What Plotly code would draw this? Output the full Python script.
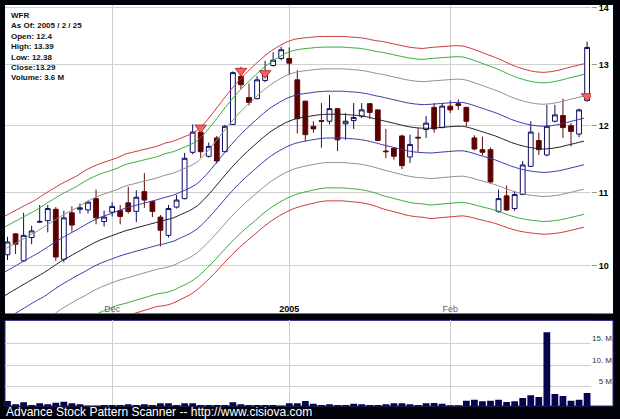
import pandas as pd
import plotly.graph_objects as go
from plotly.subplots import make_subplots

# ---- data -------------------------------------------------------------
symbol = "WFR"
holidays = ["2004-11-25", "2004-12-24", "2005-01-17", "2005-02-21"]
dates = [d for d in pd.bdate_range("2004-11-11", "2005-02-25").strftime("%Y-%m-%d")
         if d not in holidays]

open_ = [10.14, 10.42, 10.06, 10.37, 10.58, 10.60, 10.76, 10.08, 10.71, 10.76,
         10.75, 10.91, 10.59, 10.72, 10.74, 10.85, 10.73, 11.01, 10.87, 10.65,
         10.40, 10.79, 10.91, 11.59, 11.90, 11.53, 11.81, 11.60, 12.02, 12.80,
         12.45, 12.43, 12.73, 12.98, 13.10, 13.10, 12.74, 12.39, 11.99, 12.08,
         12.07, 12.27, 12.03, 12.08, 12.15, 12.35, 12.25, 11.61, 11.65, 11.84,
         11.52, 11.82, 11.94, 12.29, 11.97, 12.31, 12.35, 12.29, 11.81, 11.63,
         11.63, 10.73, 10.95, 10.77, 10.97, 11.38, 11.77, 11.55, 12.07, 12.16,
         12.00, 11.87, 12.40]
high = [10.38, 10.43, 10.71, 10.53, 10.82, 10.82, 10.79, 10.74, 10.80, 10.84,
        10.88, 11.04, 10.74, 10.86, 10.82, 11.08, 11.03, 11.28, 10.88, 10.68,
        10.82, 10.96, 11.58, 12.02, 11.97, 11.74, 11.84, 12.01, 12.88, 12.96,
        12.68, 12.80, 13.06, 13.21, 13.30, 13.29, 12.90, 12.40, 12.07, 12.36,
        12.49, 12.28, 12.20, 12.36, 12.36, 12.36, 12.26, 11.95, 11.67, 11.86,
        11.86, 11.96, 12.15, 12.36, 12.36, 12.40, 12.42, 12.30, 11.85, 11.83,
        11.66, 11.04, 11.10, 11.01, 11.46, 12.07, 11.89, 12.33, 12.33, 12.43,
        12.04, 12.27, 13.39]
low = [10.07, 10.15, 10.05, 10.28, 10.57, 10.44, 10.06, 10.04, 10.45, 10.70,
       10.70, 10.55, 10.52, 10.66, 10.55, 10.70, 10.58, 10.78, 10.65, 10.25,
       10.37, 10.77, 10.90, 11.56, 11.51, 11.51, 11.42, 11.59, 12.01, 12.59,
       12.32, 12.42, 12.70, 12.96, 13.07, 12.83, 11.88, 11.76, 11.89, 11.66,
       12.02, 11.61, 11.78, 11.95, 12.12, 12.11, 11.76, 11.50, 11.48, 11.34,
       11.43, 11.60, 11.81, 11.89, 11.96, 12.20, 12.25, 11.99, 11.62, 11.55,
       11.13, 10.71, 10.74, 10.74, 10.96, 11.37, 11.55, 11.53, 12.05, 11.81,
       11.68, 11.82, 12.38]
close = [10.31, 10.28, 10.40, 10.46, 10.59, 10.77, 10.11, 10.64, 10.54, 10.78,
         10.86, 10.64, 10.65, 10.80, 10.66, 10.73, 10.93, 10.89, 10.73, 10.47,
         10.77, 10.89, 11.50, 11.90, 11.60, 11.68, 11.46, 11.99, 12.86, 12.66,
         12.37, 12.74, 12.87, 13.07, 13.25, 13.02, 12.11, 11.86, 11.95, 12.07,
         12.27, 11.78, 12.07, 12.13, 12.25, 12.21, 11.77, 11.60, 11.53, 11.39,
         11.71, 11.81, 12.04, 11.95, 12.31, 12.25, 12.32, 12.07, 11.64, 11.59,
         11.15, 10.91, 10.75, 10.97, 11.40, 11.90, 11.63, 11.99, 12.17, 11.97,
         11.91, 12.25, 13.29]
volume_m = [1.73, 0.97, 1.43, 0.81, 1.20, 0.97, 1.34, 1.57, 1.20, 0.97,
            0.65, 0.65, 0.81, 0.81, 0.81, 0.97, 0.81, 0.97, 0.81, 1.20,
            1.20, 0.81, 1.20, 1.20, 0.81, 0.81, 0.81, 0.81, 1.43, 1.00,
            0.81, 0.81, 0.81, 0.81, 0.65, 1.20, 1.20, 1.73, 1.10, 0.81,
            0.97, 0.81, 0.81, 1.10, 0.97, 0.81, 0.81, 0.97, 1.20, 1.20,
            0.97, 0.81, 1.20, 1.27, 1.11, 0.74, 0.74, 1.80, 2.03, 1.66,
            1.80, 2.03, 1.50, 1.66, 2.42, 3.05, 2.66, 17.67, 3.35, 2.89,
            1.80, 2.03, 3.60]

# envelope: middle line and band unit width, per session
band_mid = [9.61, 9.67, 9.73, 9.79, 9.85, 9.91, 9.98, 10.05, 10.11, 10.17,
            10.23, 10.29, 10.34, 10.38, 10.42, 10.46, 10.49, 10.52, 10.55, 10.58,
            10.61, 10.64, 10.69, 10.74, 10.81, 10.92, 11.05, 11.19, 11.33, 11.46,
            11.58, 11.69, 11.80, 11.90, 11.98, 12.05, 12.10, 12.13, 12.15, 12.17,
            12.18, 12.18, 12.18, 12.17, 12.16, 12.14, 12.11, 12.08, 12.05, 12.02,
            11.99, 11.97, 11.96, 11.96, 11.97, 11.98, 11.99, 11.99, 11.96, 11.92,
            11.88, 11.84, 11.79, 11.74, 11.70, 11.67, 11.65, 11.64, 11.65, 11.67,
            11.70, 11.73, 11.76]
band_unit = [0.300, 0.300, 0.300, 0.300, 0.300, 0.305, 0.305, 0.305, 0.305, 0.305,
             0.310, 0.310, 0.310, 0.310, 0.310, 0.315, 0.315, 0.315, 0.315, 0.315,
             0.320, 0.320, 0.320, 0.320, 0.320, 0.325, 0.333, 0.341, 0.349, 0.356,
             0.362, 0.368, 0.372, 0.376, 0.378, 0.380, 0.380, 0.378, 0.376, 0.374,
             0.372, 0.372, 0.372, 0.372, 0.372, 0.372, 0.372, 0.375, 0.375, 0.375,
             0.375, 0.375, 0.375, 0.380, 0.380, 0.380, 0.380, 0.378, 0.375, 0.372,
             0.368, 0.365, 0.362, 0.358, 0.355, 0.352, 0.350, 0.350, 0.351, 0.353,
             0.355, 0.356, 0.357]
band_levels = [3.5, 3.0, 2.0, 1.0]
band_colors = ["#cc3333", "#33aa33", "#8c8c8c", "#3434a8"]

signal_idx = [24, 29, 32, 72]
signal_price = [11.97, 12.89, 12.85, 12.47]

month_ticks = ["2004-12-01", "2005-01-03", "2005-02-01"]
month_labels = ["Dec", "<b><span style='color:#000'>2005</span></b>", "Feb"]
price_ticks = [10, 11, 12, 13, 14]
volume_ticks = [5, 10, 15]
volume_labels = ["\u00a0\u00a0\u00a05 M", "10. M", "15. M"]

# ---- figure -----------------------------------------------------------
W, H = 620, 419
ML, MR, MT, MB = 5, 29, 3, 13
PW, PH = W - ML - MR, H - MT - MB
FONT = "Liberation Sans, Arial, sans-serif"


def py(px):  # pixel row -> paper y
    return (H - MB - px) / PH


def pxx(px):  # pixel column -> paper x
    return (px - ML) / PW


idx = list(range(len(dates)))
line_x = [i - 0.4 for i in idx]
tick_pos = [dates.index(d) for d in month_ticks]

fig = make_subplots(rows=2, cols=1, shared_xaxes=True, vertical_spacing=0)

# envelope lines
for k, col in zip(band_levels, band_colors):
    for sgn in (1, -1):
        fig.add_trace(go.Scatter(
            x=line_x, y=[m + sgn * k * s for m, s in zip(band_mid, band_unit)],
            mode="lines", line=dict(color=col, width=1, shape="spline", smoothing=0.6),
            hoverinfo="skip", showlegend=False), row=1, col=1)
fig.add_trace(go.Scatter(
    x=line_x, y=band_mid, mode="lines",
    line=dict(color="#1a1a1a", width=1, shape="spline", smoothing=0.6),
    hoverinfo="skip", showlegend=False), row=1, col=1)

fig.add_trace(go.Candlestick(
    x=idx, open=open_, high=high, low=low, close=close,
    increasing=dict(line=dict(color="#0b0b66", width=1), fillcolor="#ffffff"),
    decreasing=dict(line=dict(color="#5e0808", width=1), fillcolor="#5a0000"),
    whiskerwidth=0, showlegend=False), row=1, col=1)

fig.add_trace(go.Scatter(
    x=signal_idx, y=signal_price, mode="markers",
    marker=dict(symbol="triangle-down", size=10, color="#f26464",
                line=dict(color="#c03030", width=1)),
    hoverinfo="skip", showlegend=False), row=1, col=1)

fig.add_trace(go.Bar(
    x=idx, y=volume_m, marker=dict(color="#05054f", line=dict(width=0)),
    showlegend=False, hoverinfo="skip"), row=2, col=1)

price_top, price_bot = 3, 313
vol_top, vol_bot = 320, 406

fig.update_layout(
    width=W, height=H, margin=dict(l=ML, r=MR, t=MT, b=MB),
    paper_bgcolor="#02020a", plot_bgcolor="#ffffff",
    font=dict(family=FONT, size=9, color="#000"),
    bargap=0.16, boxgap=0.15, showlegend=False,
)
fig.update_xaxes(range=[-2.5 / 8.05, (PW - 2.5) / 8.05],
                 tickvals=tick_pos, showgrid=True, gridcolor="#cfcfcf", gridwidth=1,
                 zeroline=False, showline=False, ticks="",
                 rangeslider=dict(visible=False))
fig.update_xaxes(ticktext=month_labels, showticklabels=True,
                 ticklabelposition="inside", ticklabelstandoff=-3,
                 tickfont=dict(size=9, color="#666"), row=1, col=1)
fig.update_xaxes(showticklabels=False, row=2, col=1)

fig.update_yaxes(type="log", range=[0.972745, 1.147583], side="right",
                 tickvals=price_ticks, ticktext=[str(t) for t in price_ticks],
                 ticks="outside", ticklen=5, tickcolor="#9a9a9a",
                 tickfont=dict(size=9, color="#000", weight="bold"),
                 showgrid=True, gridcolor="#cfcfcf", zeroline=False,
                 domain=[py(price_bot), py(price_top)], row=1, col=1)
fig.update_yaxes(range=[0.58, 20.44], side="right",
                 tickvals=volume_ticks, ticktext=volume_labels, ticks="",
                 ticklabelposition="outside top",
                 tickfont=dict(size=8, color="#333"),
                 showgrid=True, gridcolor="#cfcfcf", zeroline=False,
                 domain=[py(vol_bot), py(vol_top)], row=2, col=1)

# white label strips and volume panel frame
fig.add_shape(type="rect", xref="paper", yref="paper", layer="below",
              x0=1, x1=pxx(613), y0=py(price_bot), y1=py(price_top),
              fillcolor="#ffffff", line=dict(width=0))
fig.add_shape(type="rect", xref="paper", yref="paper", layer="below",
              x0=pxx(5), x1=pxx(613), y0=py(vol_bot), y1=py(vol_top),
              fillcolor="#ffffff", line=dict(width=1, color="#2e2e86"))

last = len(dates) - 1
y, m, d = dates[last].split("-")
info = (f"<b>{symbol}</b><br>As Of: {int(y)} / {int(m)} / {int(d)}<br>"
        f"Open: {open_[last]:g}<br>High: {high[last]:g}<br>Low: {low[last]:g}<br>"
        f"Close:{close[last]:g}<br>Volume: {volume_m[last]:g} M")
fig.add_annotation(text=f"<b>{info}</b>", xref="paper", yref="paper",
                   x=pxx(9), y=py(7), xanchor="left", yanchor="top", align="left",
                   showarrow=False, font=dict(size=8, color="#111", family=FONT))
fig.add_annotation(text="Advance Stock Pattern Scanner -- http://www.cisiova.com",
                   xref="paper", yref="paper", x=pxx(4), y=py(412.5),
                   xanchor="left", yanchor="middle", showarrow=False,
                   font=dict(size=12, color="#ffffff", family=FONT))

fig.write_html("out.html")
